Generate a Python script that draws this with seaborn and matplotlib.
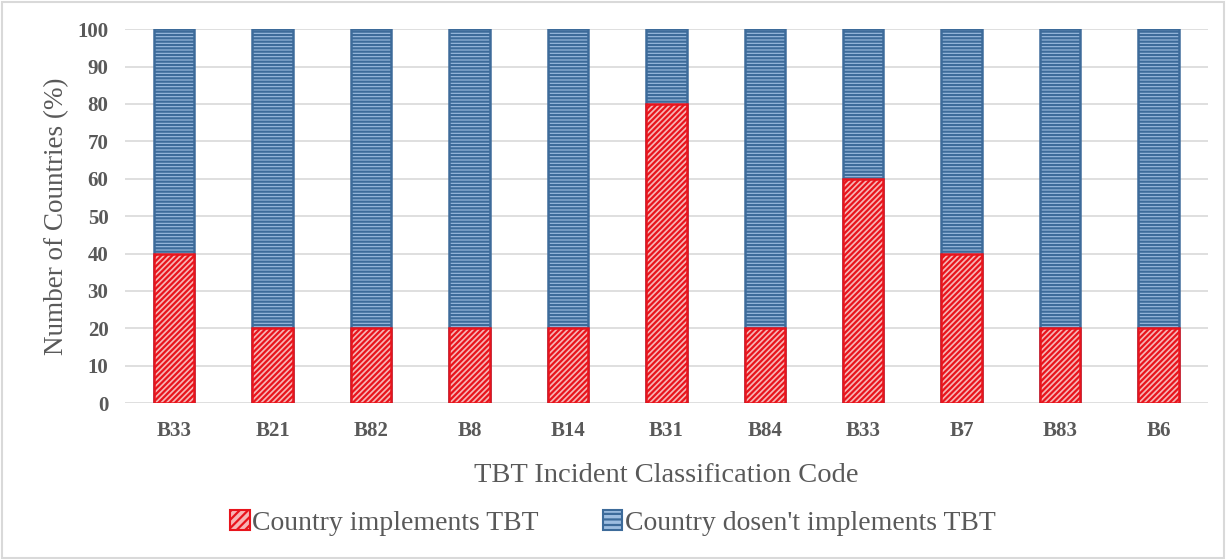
import matplotlib
matplotlib.use("Agg")
import matplotlib.pyplot as plt
from matplotlib.patches import Patch, Rectangle
import seaborn as sns
import pandas as pd

codes = ["B33", "B21", "B82", "B8", "B14", "B31", "B84", "B33", "B7", "B83", "B6"]
implements = [40, 20, 20, 20, 20, 80, 20, 60, 40, 20, 20]
not_implements = [60, 80, 80, 80, 80, 20, 80, 40, 60, 80, 80]
y_ticks = [0, 10, 20, 30, 40, 50, 60, 70, 80, 90, 100]

label_impl = "Country implements TBT"
label_not = "Country dosen't implements TBT"

sns.set_theme(style="white")
plt.rcParams["font.family"] = ["Liberation Serif", "DejaVu Serif"]
plt.rcParams["hatch.linewidth"] = 1.6

text_color = "#595959"
red_edge = "#e8141c"
red_face = "#f7b5b5"
blue_edge = "#3d6b9a"
blue_face = "#9dbde0"

positions = [f"{i}" for i in range(len(codes))]
df = pd.DataFrame({
    "pos": positions,
    "code": codes,
    "impl": implements,
    "total": [a + b for a, b in zip(implements, not_implements)],
})

fig = plt.figure(figsize=(12.26, 5.6), dpi=100)
ax = fig.add_axes([0.102, 0.280, 0.883, 0.668])

sns.barplot(data=df, x="pos", y="total", ax=ax, width=0.41,
            color=blue_face, saturation=1, linewidth=1.8, edgecolor=blue_edge)
n = len(codes)
for p in ax.patches[:n]:
    p.set_hatch("-----")
    p.set_edgecolor(blue_edge)

sns.barplot(data=df, x="pos", y="impl", ax=ax, width=0.41,
            color=red_face, saturation=1, linewidth=1.8, edgecolor=red_edge)
for p in ax.patches[n:]:
    p.set_hatch("//////")
    p.set_edgecolor(red_edge)

ax.set_ylim(0, 100)
ax.set_yticks(y_ticks)
ax.set_xlim(-0.5, n - 0.5)
ax.set_xticks(range(n))
ax.set_xticklabels(codes)
ax.yaxis.grid(True, color="#d9d9d9", linewidth=1.2)
ax.set_axisbelow(True)
for s in ax.spines.values():
    s.set_visible(False)
ax.tick_params(axis="both", length=0, colors=text_color, labelsize=15)
ax.tick_params(axis="x", pad=13)
ax.tick_params(axis="y", pad=12)
for lbl in ax.get_xticklabels() + ax.get_yticklabels():
    lbl.set_fontweight("bold")

ax.set_xlabel("TBT Incident Classification Code", fontsize=20.5,
              color=text_color, labelpad=16)
ax.set_ylabel("Number of Countries (%)", fontsize=19.5,
              color=text_color, labelpad=6)

handles = [
    Patch(facecolor=red_face, edgecolor=red_edge, hatch="////", linewidth=1.5, label=label_impl),
    Patch(facecolor=blue_face, edgecolor=blue_edge, hatch="---", linewidth=1.5, label=label_not),
]
fig.legend(handles=handles, loc="center", bbox_to_anchor=(0.5, 0.066), ncol=2,
           frameon=False, fontsize=20, labelcolor=text_color,
           handlelength=0.7, handleheight=0.7, handletextpad=0.1, columnspacing=2.3)

fig.add_artist(Rectangle((0.002, 0.003), 0.996, 0.994, transform=fig.transFigure,
                         fill=False, edgecolor="#d9d9d9", linewidth=1.5))

fig.savefig("out.png", dpi=100)
